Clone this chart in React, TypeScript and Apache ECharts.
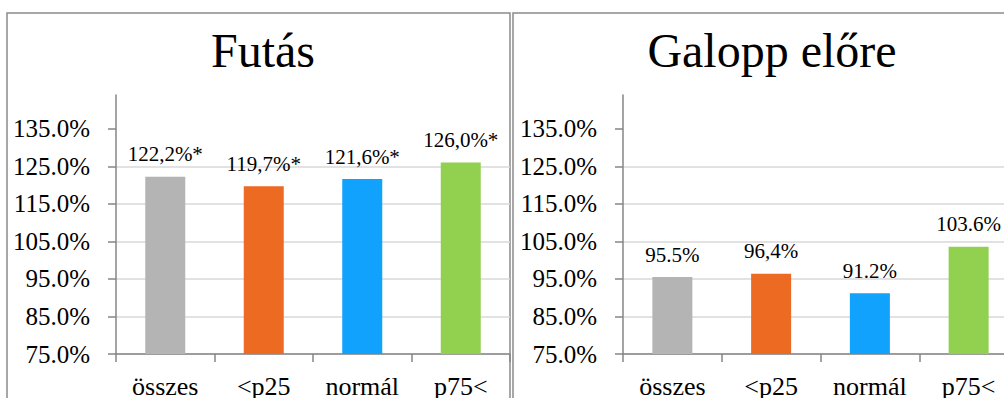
import React, { useEffect, useRef } from "react";
import * as echarts from "echarts";

const categories = ["összes", "<p25", "normál", "p75<"];
const colors = ["#b4b4b4", "#ec6a22", "#10a2fc", "#92d050"];
const titles = ["Futás", "Galopp előre"];
const futasValues = [122.2, 119.7, 121.6, 126.0];
const futasLabels = ["122,2%*", "119,7%*", "121,6%*", "126,0%*"];
const galoppValues = [95.5, 96.4, 91.2, 103.6];
const galoppLabels = ["95.5%", "96,4%", "91.2%", "103.6%"];
const yTicks = [75, 85, 95, 105, 115, 125, 135];
const yMin = 75;
const yMax = 144;

const FONT = "Liberation Serif, Times New Roman, serif";

export default function App() {
  const ref = useRef<HTMLDivElement>(null);
  useEffect(() => {
    if (!ref.current) return;
    const chart = echarts.init(ref.current, null, { renderer: "svg" });
    const grids = [
      { left: 116, width: 394, top: 95, height: 259 },
      { left: 623, width: 395, top: 95, height: 259 },
    ];
    const mkX = (i: number) => ({
      type: "category",
      gridIndex: i,
      data: categories,
      boundaryGap: true,
      axisLine: { show: true, lineStyle: { color: "#868686", width: 1.5 } },
      axisTick: { show: true, length: 8, lineStyle: { color: "#868686", width: 1.5 } },
      axisLabel: { color: "#000", fontFamily: FONT, fontSize: 26, margin: 19 },
      splitLine: { show: false },
    });
    const mkY = (i: number) => ({
      type: "value",
      gridIndex: i,
      min: yMin,
      max: yMax,
      interval: 10,
      axisLine: { show: true, lineStyle: { color: "#868686", width: 1.5 } },
      axisTick: {
        show: true,
        length: 8,
        customValues: yTicks,
        lineStyle: { color: "#868686", width: 1.5 },
      },
      axisLabel: {
        color: "#000",
        fontFamily: FONT,
        fontSize: 25,
        margin: 26,
        customValues: yTicks,
        formatter: (v: number) => v.toFixed(1) + "%",
      },
      splitLine: {
        show: true,
        showMaxLine: false,
        lineStyle: { color: "#d9d9d9", width: 1.5 },
      },
    });
    const mkSeries = (i: number, values: number[], labels: string[]) => ({
      type: "bar",
      xAxisIndex: i,
      yAxisIndex: i,
      barWidth: 40,
      data: values.map((v, k) => ({
        value: v,
        itemStyle: { color: colors[k] },
        label: { formatter: labels[k] },
      })),
      label: {
        show: true,
        position: "top",
        distance: 12,
        color: "#000",
        fontFamily: FONT,
        fontSize: 21,
      },
    });
    chart.setOption({
      animation: false,
      backgroundColor: "#fff",
      textStyle: { fontFamily: FONT },
      title: [
        {
          text: titles[0],
          left: 258,
          top: 21,
          textAlign: "center",
          textStyle: { fontFamily: FONT, fontSize: 48, fontWeight: "normal", color: "#000" },
        },
        {
          text: titles[1],
          left: 767,
          top: 21,
          textAlign: "center",
          textStyle: { fontFamily: FONT, fontSize: 48, fontWeight: "normal", color: "#000" },
        },
      ],
      grid: grids,
      xAxis: [mkX(0), mkX(1)],
      yAxis: [mkY(0), mkY(1)],
      series: [mkSeries(0, futasValues, futasLabels), mkSeries(1, galoppValues, galoppLabels)],
      graphic: [
        {
          type: "rect",
          shape: { x: 7, y: 13, width: 503, height: 500 },
          style: { fill: "none", stroke: "#8a8a8a", lineWidth: 1.5 },
          silent: true,
        },
        {
          type: "rect",
          shape: { x: 513, y: 13, width: 508, height: 500 },
          style: { fill: "none", stroke: "#8a8a8a", lineWidth: 1.5 },
          silent: true,
        },
      ],
    });
    return () => chart.dispose();
  }, []);
  return (
    <div
      style={{
        position: "absolute",
        left: 0,
        top: 0,
        width: 1004,
        height: 398,
        overflow: "hidden",
        background: "#fff",
      }}
    >
      <div ref={ref} style={{ width: 1030, height: 430 }} />
    </div>
  );
}
